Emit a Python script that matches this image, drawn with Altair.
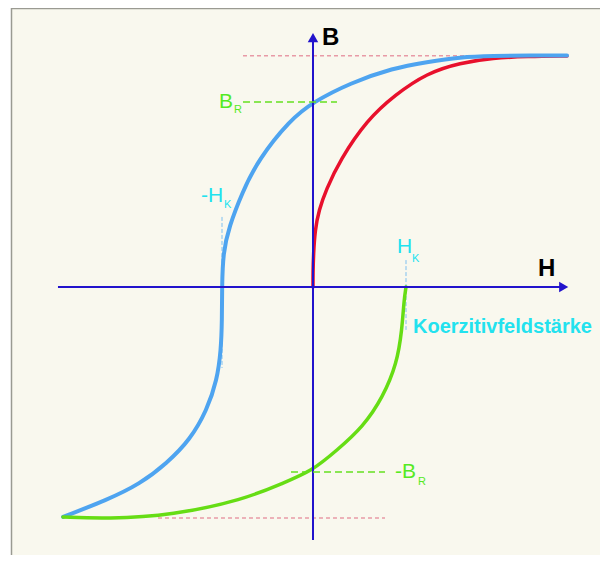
import altair as alt
import pandas as pd

# ---- data (H in units of H_K, B in units of B_sat) ----
blue_h = [-2.717, -2.239, -1.880, -1.587, -1.337, -1.152, -1.043, -1.000, -0.989, -0.989,
          -0.978, -0.913, -0.772, -0.598, -0.250, 0.0, 0.402, 0.870, 1.239, 1.598, 1.957, 2.359, 2.761]
blue_b = [-0.991, -0.918, -0.849, -0.759, -0.659, -0.530, -0.401, -0.272, -0.142, 0.0,
          0.147, 0.259, 0.405, 0.547, 0.720, 0.797, 0.879, 0.944, 0.970, 0.991, 0.996, 0.998, 0.998]

red_h = [0.0, 0.0, 0.005, 0.022, 0.065, 0.141, 0.293, 0.587, 0.891, 1.239, 1.598, 1.957, 2.326, 2.761]
red_b = [0.0, 0.060, 0.138, 0.246, 0.332, 0.418, 0.547, 0.720, 0.828, 0.922, 0.966, 0.987, 0.994, 0.996]

green_h = [1.011, 0.989, 0.967, 0.913, 0.761, 0.543, 0.261, -0.011, -0.326, -0.761, -1.522, -2.239, -2.717]
green_b = [0.0, -0.056, -0.185, -0.328, -0.474, -0.603, -0.703, -0.793, -0.845, -0.918, -0.983, -1.000, -0.991]

# reference lines: [h, b, h2, b2]
sat_lines = [[-0.761, 0.997, 2.761, 0.997], [-1.685, -0.996, 0.783, -0.996]]
br_lines = [[-0.761, 0.797, 0.261, 0.797], [-0.239, -0.797, 0.783, -0.797]]
hk_lines = [[-0.989, 0.302, -0.989, -0.349], [1.011, 0.116, 1.011, -0.185]]
axis_lines = [[-2.772, 0.0, 2.70, 0.0], [0.0, -1.091, 0.0, 1.06]]
arrow_right = [[2.725, 0.0]]
arrow_up = [[0.0, 1.075]]

# labels: text, h, b
black_labels = [["B", 0.098, 1.043], ["H", 2.446, 0.047]]
green_big = [["B", -1.022, 0.772], ["-B", 0.891, -0.823]]
green_sub = [["R", -0.859, 0.750], ["R", 1.141, -0.853]]
cyan_big = [["H", 0.913, 0.147], ["-H", -1.217, 0.366]]
cyan_sub = [["K", 1.076, 0.108], ["K", -0.967, 0.341]]
coerc_label = [["Koerzitivfeldstärke", 1.087, -0.198]]

W, HGT = 592, 547
xs = alt.Scale(domain=[-3.3152, 3.1196], nice=False, zero=False)
ys = alt.Scale(domain=[-1.1552, 1.2026], nice=False, zero=False)
FONT = "Liberation Sans"


def curve_df(h, b):
    return pd.DataFrame({"h": h, "b": b, "i": list(range(len(h)))})


def seg_df(rows):
    return pd.DataFrame(rows, columns=["h", "b", "h2", "b2"])


def pt_df(rows):
    return pd.DataFrame(rows, columns=["h", "b"])


def lab_df(rows):
    return pd.DataFrame(rows, columns=["t", "h", "b"])


def curve(h, b, color, width):
    return alt.Chart(curve_df(h, b)).mark_line(
        color=color, strokeWidth=width, interpolate="basis", strokeCap="round"
    ).encode(
        x=alt.X("h:Q", scale=xs, axis=None),
        y=alt.Y("b:Q", scale=ys, axis=None),
        order="i:O",
    )


def segs(rows, color, width, dash=None):
    kw = dict(color=color, strokeWidth=width)
    if dash:
        kw["strokeDash"] = dash
    return alt.Chart(seg_df(rows)).mark_rule(**kw).encode(
        x=alt.X("h:Q", scale=xs, axis=None),
        y=alt.Y("b:Q", scale=ys, axis=None),
        x2="h2:Q",
        y2="b2:Q",
    )


def labels(rows, color, size, bold=False):
    return alt.Chart(lab_df(rows)).mark_text(
        color=color, fontSize=size, font=FONT, fontWeight="bold" if bold else "normal",
        align="left", baseline="alphabetic",
    ).encode(
        x=alt.X("h:Q", scale=xs, axis=None),
        y=alt.Y("b:Q", scale=ys, axis=None),
        text="t:N",
    )


def arrow(rows, shape):
    return alt.Chart(pt_df(rows)).mark_point(
        shape=shape, filled=True, color="#2213cc", size=110, opacity=1, strokeWidth=0
    ).encode(
        x=alt.X("h:Q", scale=xs, axis=None),
        y=alt.Y("b:Q", scale=ys, axis=None),
    )


# panel decoration (left white strip + grey border)
strip = alt.Chart(pd.DataFrame({"a": [0]})).mark_rect(color="white").encode(
    x=alt.value(0), x2=alt.value(3), y=alt.value(0), y2=alt.value(HGT)
)
border_v = alt.Chart(pd.DataFrame({"a": [0]})).mark_rule(color="#9a9a92", strokeWidth=1.5).encode(
    x=alt.value(3.5), y=alt.value(0), y2=alt.value(HGT)
)
border_h = alt.Chart(pd.DataFrame({"a": [0]})).mark_rule(color="#9a9a92", strokeWidth=1.5).encode(
    x=alt.value(3), x2=alt.value(W), y=alt.value(0.5)
)

chart = alt.layer(
    strip,
    border_v,
    border_h,
    segs(sat_lines, "#e89aa6", 1.5, [4, 3]),
    segs(hk_lines, "#7fc0f0", 1, [4, 2]),
    curve(red_h, red_b, "#e8102c", 3.5),
    curve(blue_h, blue_b, "#4ea4f0", 4),
    curve(green_h, green_b, "#66dd14", 3.5),
    segs(axis_lines, "#2213cc", 2),
    arrow(arrow_right, "triangle-right"),
    arrow(arrow_up, "triangle-up"),
    segs(br_lines, "#66e020", 1.5, [7, 4]),
    labels(black_labels, "#000000", 24, bold=True),
    labels(green_big, "#55ea22", 21),
    labels(green_sub, "#55ea22", 11),
    labels(cyan_big, "#22e2ee", 21),
    labels(cyan_sub, "#22e2ee", 11),
    labels(coerc_label, "#22e2ee", 20, bold=True),
).properties(
    width=W, height=HGT, padding=0, autosize=alt.AutoSizeParams(type="none"),
    background="#f9f8ee",
).configure_view(stroke=None)

chart.save("out.html", embed_options={"renderer": "svg", "actions": False})
